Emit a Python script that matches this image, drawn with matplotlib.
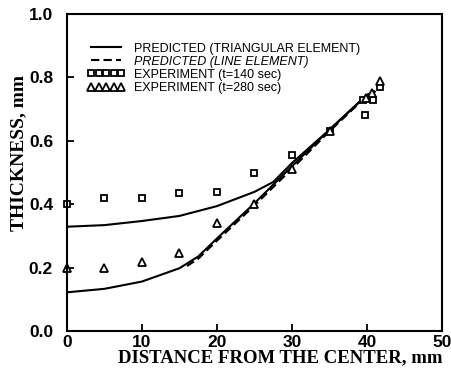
import numpy as np
import matplotlib
matplotlib.use('Agg')
import matplotlib.pyplot as plt

# --- data ---

# predicted, triangular element (t=140 s and t=280 s curves)
x_pred = [0, 5, 10, 15, 20, 25, 27.5, 30, 35, 40, 41]
y_tri_140 = [0.329, 0.334, 0.347, 0.363, 0.394, 0.439, 0.47, 0.53, 0.635, 0.745, 0.755]
x_pred_280 = [0, 5, 10, 15, 17.5, 20, 25, 30, 35, 40, 41]
y_tri_280 = [0.122, 0.133, 0.156, 0.198, 0.235, 0.292, 0.403, 0.52, 0.635, 0.745, 0.755]

# predicted, line element
x_line = [16, 17.5, 20, 25, 30, 35, 40, 41]
y_line = [0.205, 0.228, 0.285, 0.396, 0.512, 0.630, 0.742, 0.753]

# experiments
x_exp_140 = [0, 5, 10, 15, 20, 25, 30, 35, 39.7, 39.5, 40.8, 41.7]
y_exp_140 = [0.40, 0.418, 0.42, 0.435, 0.44, 0.50, 0.555, 0.63, 0.68, 0.73, 0.73, 0.77]
x_exp_280 = [0, 5, 10, 15, 20, 25, 30, 35, 39.8, 40.6, 41.7]
y_exp_280 = [0.20, 0.20, 0.218, 0.247, 0.342, 0.40, 0.51, 0.63, 0.735, 0.75, 0.79]

xticks = [0, 10, 20, 30, 40, 50]
yticks = [0.0, 0.2, 0.4, 0.6, 0.8, 1.0]

# --- plotting ---

fig = plt.figure(figsize=(4.52, 3.69), dpi=100)
ax = fig.add_axes([0.148, 0.103, 0.830, 0.859])

ax.plot(x_pred, y_tri_140, color='black', lw=1.5,
        label='PREDICTED (TRIANGULAR ELEMENT)')
ax.plot(x_pred_280, y_tri_280, color='black', lw=1.5)
ax.plot(x_line, y_line, color='black', lw=1.5, ls=(0, (4, 2)),
        label='PREDICTED (LINE ELEMENT)')
ax.plot(x_exp_140, y_exp_140, ls='none', marker='s', ms=4.6, mfc='white',
        mec='black', mew=1.3, label='EXPERIMENT (t=140 sec)', clip_on=False)
ax.plot(x_exp_280, y_exp_280, ls='none', marker='^', ms=5.2, mfc='white',
        mec='black', mew=1.3, label='EXPERIMENT (t=280 sec)', clip_on=False)

ax.set_xlim(0, 50)
ax.set_ylim(0, 1.0)
ax.set_xticks(xticks)
ax.set_yticks(yticks)
ax.set_xticklabels([str(t) for t in xticks])
ax.set_yticklabels(['%.1f' % t for t in yticks])
ax.tick_params(direction='in', length=5, width=1.3)
ax.tick_params(axis='x', pad=3)
ax.tick_params(axis='y', pad=10)
for lab in ax.get_xticklabels() + ax.get_yticklabels():
    lab.set_fontfamily('Liberation Sans')
    lab.set_fontweight('bold')
    lab.set_fontsize(12.5)
for sp in ax.spines.values():
    sp.set_linewidth(1.5)

ax.set_xlabel('DISTANCE FROM THE CENTER, mm', family='Liberation Serif',
              weight='bold', fontsize=13.5, labelpad=0)
ax.xaxis.set_label_coords(1.0, -0.058)
ax.xaxis.label.set_ha('right')
ax.xaxis.label.set_va('top')
ax.set_ylabel('THICKNESS, mm', family='Liberation Serif',
              weight='bold', fontsize=14)
ax.yaxis.set_label_coords(-0.105, 0.56)

leg = ax.legend(loc='upper left', bbox_to_anchor=(0.055, 0.91), frameon=False,
                numpoints=5, markerscale=1.0, handlelength=3.0,
                handletextpad=0.7, labelspacing=0.09, borderpad=0,
                borderaxespad=0,
                prop={'family': 'Liberation Sans', 'size': 9})
leg.get_texts()[1].set_style('italic')

fig.savefig('out.png', dpi=100)
